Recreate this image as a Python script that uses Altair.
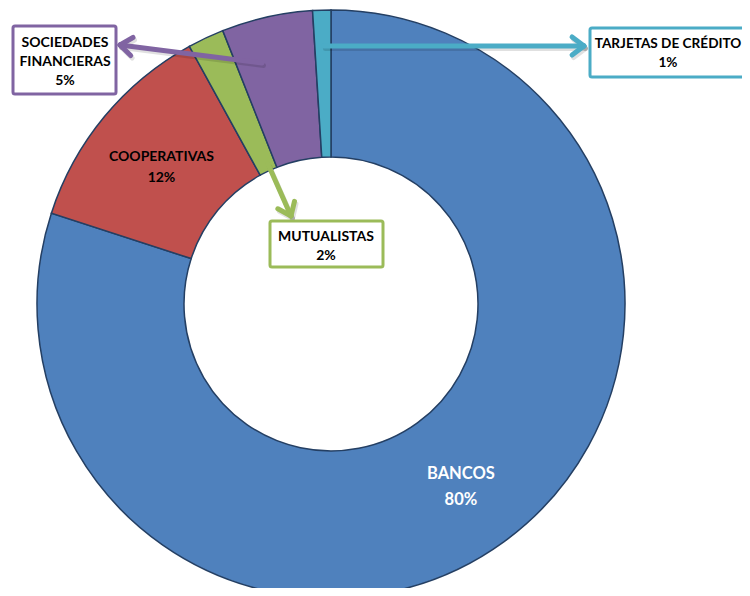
import math
import altair as alt
import pandas as pd

# ---------------- data ----------------
categories = ["BANCOS", "COOPERATIVAS", "MUTUALISTAS", "SOCIEDADES FINANCIERAS", "TARJETAS DE CRÉDITO"]
values = [80, 12, 2, 5, 1]
pct_labels = ["80%", "12%", "2%", "5%", "1%"]
colors = ["#4F81BD", "#C0504D", "#9BBB59", "#8064A2", "#4BACC6"]

# ---------------- layout (page pixels) ----------------
OFF = 8
W, H = 734, 580
CX, CY = 331 - OFF, 304 - OFF
R_OUT, R_IN = 294, 147
FONT = "Lato"
EDGE = "#243F63"

df = pd.DataFrame({
    "cat": categories,
    "value": values,
    "idx": list(range(len(categories))),
    "pct": pct_labels,
})
df["lab_white"] = [c + "\n" + p if c == "BANCOS" else "" for c, p in zip(categories, pct_labels)]
df["lab_black"] = [c + "\n" + p if c == "COOPERATIVAS" else "" for c, p in zip(categories, pct_labels)]

base = alt.Chart(df).encode(
    theta=alt.Theta("value:Q", stack=True),
    order=alt.Order("idx:Q"),
    x=alt.value(CX),
    y=alt.value(CY),
)

arcs = base.mark_arc(outerRadius=R_OUT, innerRadius=R_IN, stroke=EDGE, strokeWidth=1.5).encode(
    color=alt.Color("cat:N", scale=alt.Scale(domain=categories, range=colors), legend=None)
)

lab_w = base.mark_text(radius=221, dy=-9, font=FONT, fontWeight="bold", fontSize=16.5,
                       lineBreak="\n", lineHeight=26, color="white",
                       align="center", baseline="middle").encode(text="lab_white:N")
lab_b = base.mark_text(radius=220, dy=-7, font=FONT, fontWeight="bold", fontSize=14,
                       lineBreak="\n", lineHeight=21, color="black",
                       align="center", baseline="middle").encode(text="lab_black:N")

# callouts: box rect, text lines, arrow (tail -> tip)
soc_i = categories.index("SOCIEDADES FINANCIERAS")
tar_i = categories.index("TARJETAS DE CRÉDITO")
mut_i = categories.index("MUTUALISTAS")

callouts = [
    dict(i=soc_i, box=(13, 26, 116, 94), cx=65, lines_y=[43, 62, 81], fs=14,
         lines=categories[soc_i].split(" ") + [pct_labels[soc_i]],
         tail=(262, 63), tip=(120, 45)),
    dict(i=tar_i, box=(590, 28, 760, 77), cx=668, lines_y=[44, 63], fs=13.6,
         lines=[categories[tar_i], pct_labels[tar_i]],
         tail=(324, 46), tip=(584, 46)),
    dict(i=mut_i, box=(270, 221, 383, 267), cx=326, lines_y=[237, 256], fs=14,
         lines=[categories[mut_i], pct_labels[mut_i]],
         tail=(268, 164), tip=(291, 216)),
]

box_rows, txt_rows, seg_rows = [], [], []
for c in callouts:
    col = colors[c["i"]]
    x1, y1, x2, y2 = c["box"]
    box_rows.append(dict(x=x1 - OFF, y=y1 - OFF, x2=x2 - OFF, y2=y2 - OFF, col=col))
    for t, yy in zip(c["lines"], c["lines_y"]):
        txt_rows.append(dict(x=c["cx"] - OFF, y=yy - OFF, t=t, fs=c["fs"]))
    tx, ty = c["tail"]
    hx, hy = c["tip"]
    seg_rows.append(dict(x=tx - OFF, y=ty - OFF, x2=hx - OFF, y2=hy - OFF, col=col))
    ang = math.atan2(ty - hy, tx - hx)
    L = 15
    for s in (-0.65, 0.65):
        seg_rows.append(dict(x=hx - OFF, y=hy - OFF,
                             x2=hx - OFF + L * math.cos(ang + s),
                             y2=hy - OFF + L * math.sin(ang + s), col=col))

seg_df = pd.DataFrame(seg_rows)
shadow_df = seg_df.copy()
for k in ("x", "x2"):
    shadow_df[k] = shadow_df[k] + 1.5
for k in ("y", "y2"):
    shadow_df[k] = shadow_df[k] + 2.5

shadows = alt.Chart(shadow_df).mark_rule(strokeWidth=5, strokeCap="round", color="#000000", opacity=0.12).encode(
    x=alt.X("x:Q", scale=None), y=alt.Y("y:Q", scale=None),
    x2="x2:Q", y2="y2:Q")

arrows = alt.Chart(seg_df).mark_rule(strokeWidth=5, strokeCap="round").encode(
    x=alt.X("x:Q", scale=None), y=alt.Y("y:Q", scale=None),
    x2="x2:Q", y2="y2:Q",
    color=alt.Color("col:N", scale=None))

boxes = alt.Chart(pd.DataFrame(box_rows)).mark_rect(fill="white", strokeWidth=3, cornerRadius=2).encode(
    x=alt.X("x:Q", scale=None), y=alt.Y("y:Q", scale=None),
    x2="x2:Q", y2="y2:Q",
    stroke=alt.Stroke("col:N", scale=None))

box_txt = alt.Chart(pd.DataFrame(txt_rows)).mark_text(
    font=FONT, fontWeight="bold", color="black", align="center", baseline="middle").encode(
    x=alt.X("x:Q", scale=None), y=alt.Y("y:Q", scale=None), text="t:N",
    size=alt.Size("fs:Q", scale=None))

chart = alt.layer(arcs, lab_w, lab_b, shadows, arrows, boxes, box_txt).properties(
    width=W, height=H, autosize=alt.AutoSizeParams(type="none"), padding=0,
    background="white",
).configure_view(stroke=None)

chart.save("out.html", embed_options={"renderer": "svg", "actions": False})
